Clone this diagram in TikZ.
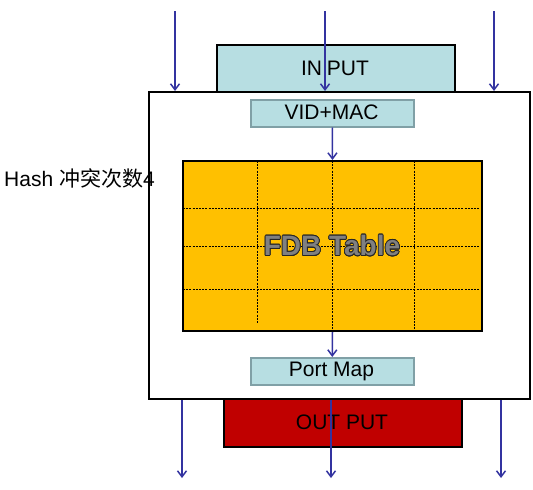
\documentclass[tikz,border=0pt]{standalone}
\usepackage{fontspec}
\setmainfont{Liberation Sans}
\newfontfamily\cjk{Noto Sans CJK SC}
\usepackage[copies]{contour}
\contourlength{0.8pt}
\usetikzlibrary{arrows.meta}
\definecolor{lblue}{RGB}{183,222,226}
\definecolor{lborder}{RGB}{128,160,166}
\definecolor{tblorange}{RGB}{255,192,0}
\definecolor{outred}{RGB}{192,0,0}
\definecolor{arrowblue}{RGB}{51,51,160}
\definecolor{fdbgray}{RGB}{128,128,128}
\begin{document}
\begin{tikzpicture}[x=1pt,y=-1pt,
  font=\fontsize{21}{25}\selectfont,
  box/.style={draw, line width=2pt, inner sep=0pt, anchor=north west},
  smallbox/.style={draw=lborder, fill=lblue, line width=1.5pt, inner sep=0pt, anchor=north west,
    minimum width=163pt, minimum height=27pt},
  grid/.style={line width=0.6pt, dash pattern=on 2pt off 1.2pt},
  flow/.style={draw=arrowblue, line width=1.5pt,
    -{Straight Barb[length=6pt,width=9pt,line width=1.5pt]}}]
\useasboundingbox (0,0) rectangle (533,490);
% boxes
\node[box, fill=lblue, minimum width=238pt, minimum height=47pt] (input) at (216,44) {};
\node at (335,68) (inputtxt) {IN\hspace{-1pt} PUT};
\node[box, fill=white, minimum width=381pt, minimum height=307pt] (frame) at (148,91) {};
\node[box, fill=outred, minimum width=238pt, minimum height=48pt] (output) at (223,398) {};
\node at (342,422) (outputtxt) {OUT PUT};
\node[smallbox] (vid) at (250,99) {};
\node at (331.5,112.5) (vidtxt) {VID+MAC};
\node[box, fill=tblorange, minimum width=299pt, minimum height=170pt] (table) at (182,160) {};
\draw[grid] (257,161) -- (257,323);
\draw[grid] (332,161) -- (332,329);
\draw[grid] (414,161) -- (414,329);
\draw[grid] (183,208) -- (480,208);
\draw[grid] (183,246) -- (480,246);
\draw[grid] (183,289) -- (480,289);
\node at (332,246) (fdb) {\fontsize{28}{32}\selectfont\bfseries\contour{black!85}{\textcolor{fdbgray}{FDB Table}}};
\node[smallbox] (port) at (250,357) {};
\node at (331.5,371) (porttxt) {Port Map};
\node[anchor=west, inner sep=0pt] (hash) at (4,178) {Hash {\cjk 冲突次数}4};
% arrows
\coordinate (t1) at (175,11);
\coordinate (t2) at (325,11);
\coordinate (t3) at (494,11);
\coordinate (b1) at (182,478);
\coordinate (b2) at (331,478);
\coordinate (b3) at (501,478);
\draw[flow] (t1) -- (t1 |- frame.north);
\draw[flow] (t2) -- (t2 |- frame.north);
\draw[flow] (t3) -- (t3 |- frame.north);
\draw[flow] (vid.south) -- (table.north);
\draw[flow] (table.south) -- (port.north);
\draw[flow] (b1 |- frame.south) -- (b1);
\draw[flow] (b2 |- frame.south) -- (b2);
\draw[flow] (b3 |- frame.south) -- (b3);
\end{tikzpicture}
\end{document}
